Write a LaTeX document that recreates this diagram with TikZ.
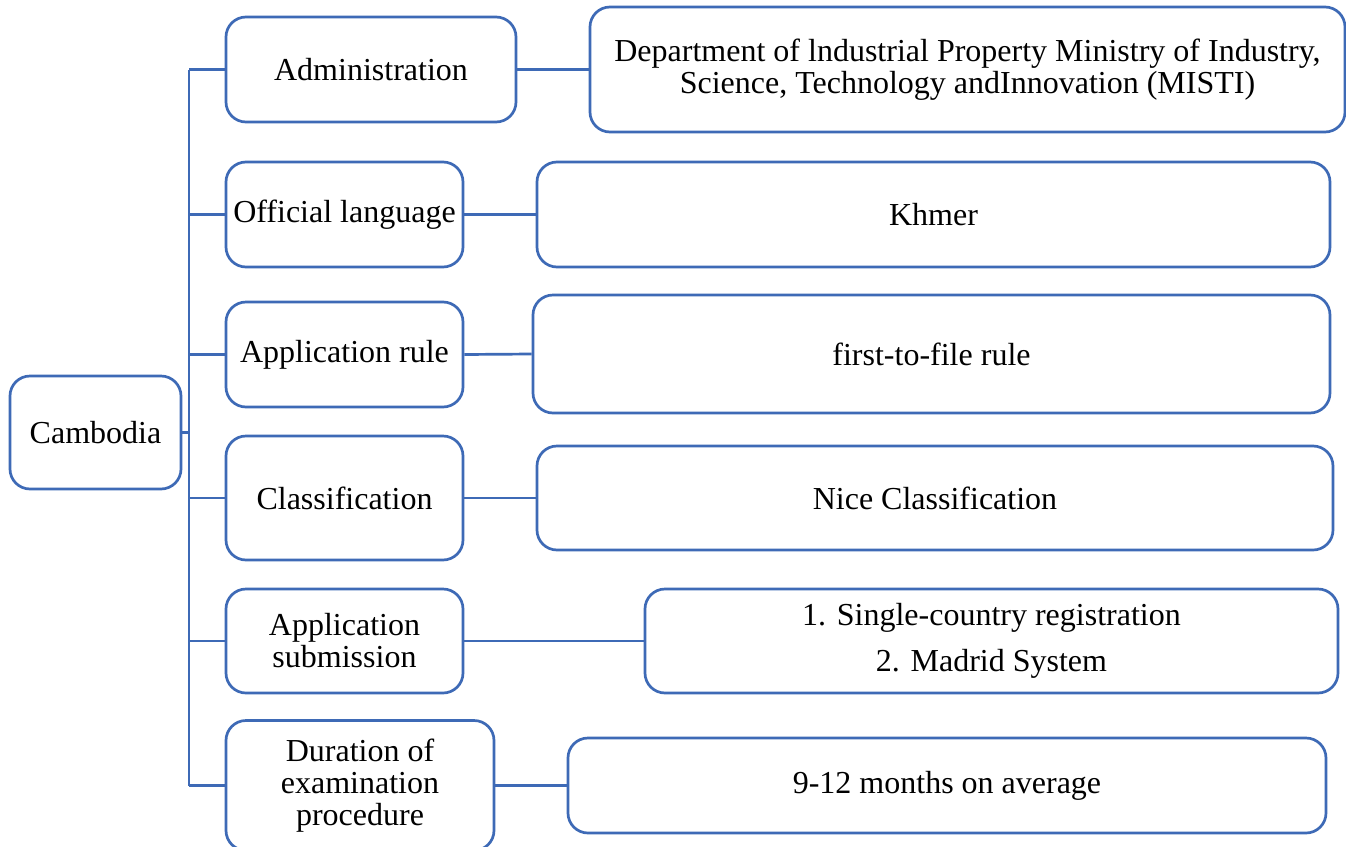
\documentclass[tikz,border=0pt]{standalone}
\usepackage{fontspec}
\setmainfont{Liberation Serif}
\usepackage{tikz}
\definecolor{boxblue}{RGB}{62,106,182}

\begin{document}
\begin{tikzpicture}[x=0.5pt,y=-0.5pt,
    box/.style={draw=boxblue, line width=1.35pt, rounded corners=10pt, align=center, inner sep=0pt, font=\fontsize{16}{16}\selectfont},
    link/.style={draw=boxblue, line width=1.35pt}]
\useasboundingbox (0,0) rectangle (1346,847);
\clip (0,0) rectangle (1346,847);
\fill[white] (0,0) rectangle (1346,847);

\node[box, minimum width=85.5pt, minimum height=56.5pt] (camb) at (95.5,432.5) {Cambodia};

\node[box, minimum width=145pt, minimum height=52.5pt] (admin) at (371,69.5) {Administration};
\node[box, minimum width=118.5pt, minimum height=52.5pt] (lang) at (344.5,214.5) {Official language};
\node[box, minimum width=118.5pt, minimum height=52.5pt] (rule) at (344.5,354.5) {Application rule};
\node[box, minimum width=118.5pt, minimum height=62pt] (cls) at (344.5,498) {Classification};
\node[box, minimum width=118.5pt, minimum height=52pt] (sub) at (344.5,641) {Application\\submission};
\node[box, minimum width=134pt, minimum height=65pt] (dur) at (360,785.5) {Duration of\\examination\\procedure};

\node[box, minimum width=377.5pt, minimum height=62.5pt] (admind) at (967.5,69.5) {Department of lndustrial Property Ministry of Industry,\\Science, Technology andInnovation (MISTI)};
\node[box, minimum width=396.5pt, minimum height=52.5pt] (langd) at (933.5,214.5) {Khmer};
\node[box, minimum width=398.5pt, minimum height=59pt] (ruled) at (931.5,354) {first-to-file rule};
\node[box, minimum width=398pt, minimum height=52pt] (clsd) at (935,498) {Nice Classification};
\node[box, minimum width=346.5pt, minimum height=52pt] (subd) at (991.5,641) {1. Single-country registration\\[7pt]2. Madrid System};
\node[box, minimum width=379pt, minimum height=47.5pt] (durd) at (947,785.5) {9-12 months on average};

\coordinate (spine) at (189,0);
\draw[link] (camb.east) -- (camb.east -| spine);
\draw[link] (spine |- admin.west) -- (spine |- dur.west);
\foreach \n in {admin,lang,rule,cls,sub,dur} {
    \draw[link] (spine |- \n.west) -- (\n.west);
}
\foreach \a/\b in {admin/admind,lang/langd,rule/ruled,cls/clsd,sub/subd,dur/durd} {
    \draw[link] (\a.east) -- (\b.west);
}
\end{tikzpicture}
\end{document}
